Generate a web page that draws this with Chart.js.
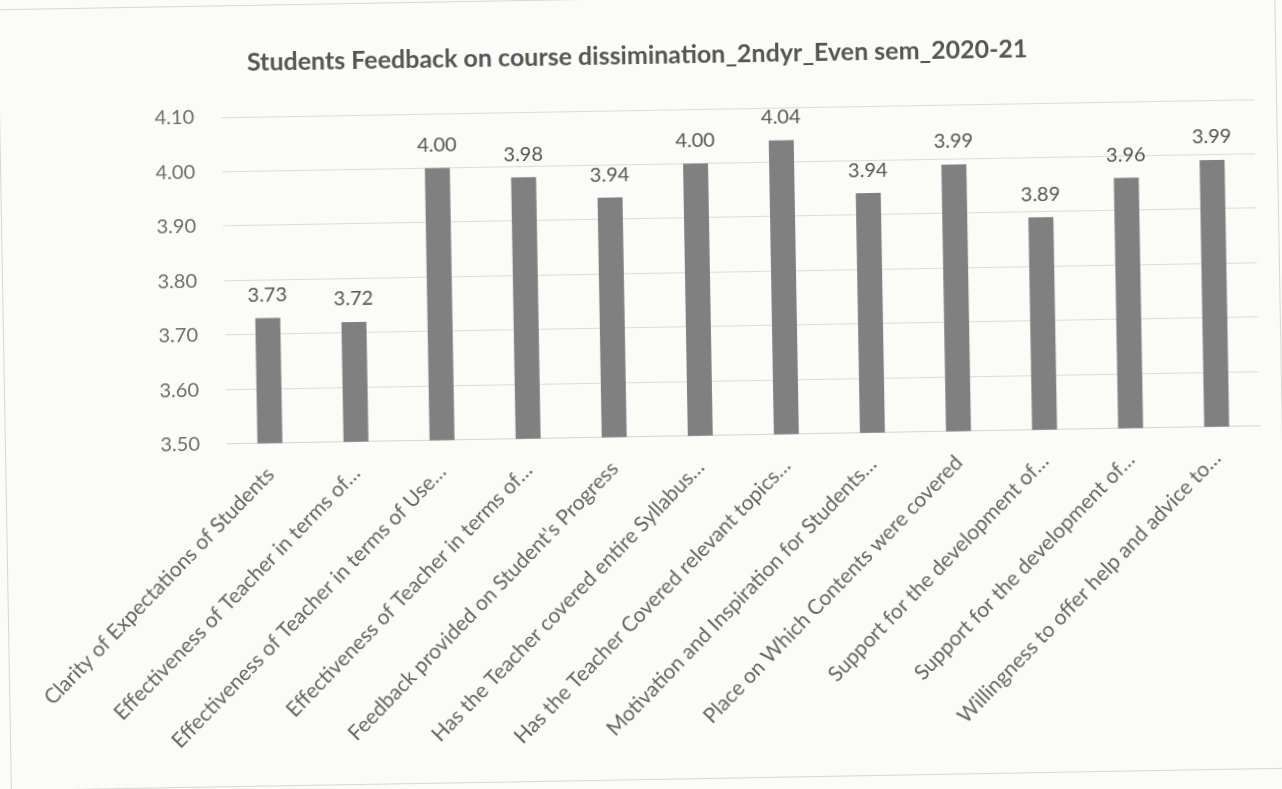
<!DOCTYPE html>
<html>
<head>
<meta charset="utf-8">
<title>Students Feedback</title>
<script src="https://cdn.jsdelivr.net/npm/chart.js@4/dist/chart.umd.min.js"></script>
<style>
    html, body {
        margin: 0;
        padding: 0;
        background: #fbfbfa;
        overflow: hidden;
    }
    .chart-box {
        position: absolute;
        left: 4px;
        top: -2px;
        width: 1276px;
        height: 780px;
        border: 1px solid #d6d6d4;
        transform: rotate(-1deg);
        transform-origin: 50% 50%;
    }
</style>
</head>
<body>
<div class="chart-box">
    <canvas id="myChart"></canvas>
</div>
<script>
var chartTitle = 'Students Feedback on course dissimination_2ndyr_Even sem_2020-21';

var categories = [
    'Clarity of Expectations of Students',
    'Effectiveness of Teacher in terms of…',
    'Effectiveness of Teacher in terms of Use…',
    'Effectiveness of Teacher in terms of…',
    'Feedback provided on Student\'s Progress',
    'Has the Teacher covered entire Syllabus…',
    'Has the Teacher Covered relevant topics…',
    'Motivation and Inspiration for Students…',
    'Place on Which Contents were covered',
    'Support for the development of…',
    'Support for the development of…',
    'Willingness to offer help and advice to…'
];

var scores = [3.73, 3.72, 4.00, 3.98, 3.94, 4.00, 4.04, 3.94, 3.99, 3.89, 3.96, 3.99];

var yTicks = [3.50, 3.60, 3.70, 3.80, 3.90, 4.00, 4.10];

// values written above each bar
var barValueLabels = {
    id: 'barValueLabels',
    afterDatasetsDraw: function (chart) {
        var ctx = chart.ctx;
        var meta = chart.getDatasetMeta(0);
        ctx.save();
        ctx.font = '20px Lato';
        ctx.fillStyle = '#555555';
        ctx.textAlign = 'center';
        ctx.textBaseline = 'bottom';
        for (var i = 0; i < meta.data.length; i++) {
            var bar = meta.data[i];
            ctx.fillText(chart.data.datasets[0].data[i].toFixed(2), bar.x, bar.y - 13);
        }
        ctx.restore();
    }
};

function renderChart() {
    var ctx = document.getElementById('myChart');
    new Chart(ctx, {
        type: 'bar',
        plugins: [barValueLabels],
        data: {
            labels: categories,
            datasets: [{
                label: 'Score',
                data: scores,
                backgroundColor: '#808080',
                barPercentage: 0.29,
                categoryPercentage: 1.0
            }]
        },
        options: {
            responsive: true,
            maintainAspectRatio: false,
            animation: false,
            layout: {
                padding: { top: 32, left: 22, right: 22, bottom: 21 }
            },
            plugins: {
                legend: { display: false },
                tooltip: { enabled: false },
                title: {
                    display: true,
                    text: chartTitle,
                    color: '#555555',
                    font: { family: 'Lato', size: 25, weight: 'bold' },
                    padding: { top: 10, bottom: 39 }
                }
            },
            scales: {
                x: {
                    grid: { display: false },
                    border: { color: '#d4d4d4' },
                    ticks: {
                        color: '#666666',
                        font: { family: 'Lato', size: 21 },
                        autoSkip: false,
                        minRotation: 45,
                        maxRotation: 45,
                        padding: 11
                    }
                },
                y: {
                    min: 3.5,
                    max: 4.1,
                    afterBuildTicks: function (axis) {
                        axis.ticks = yTicks.map(function (v) { return { value: v }; });
                    },
                    afterFit: function (axis) {
                        axis.width = 199;
                    },
                    border: { display: false },
                    grid: { color: '#dcdcdc', drawTicks: false },
                    ticks: {
                        color: '#6e6e6e',
                        font: { family: 'Lato', size: 20 },
                        padding: 27,
                        callback: function (v) { return Number(v).toFixed(2); }
                    }
                }
            }
        }
    });
}

renderChart();
</script>
</body>
</html>
